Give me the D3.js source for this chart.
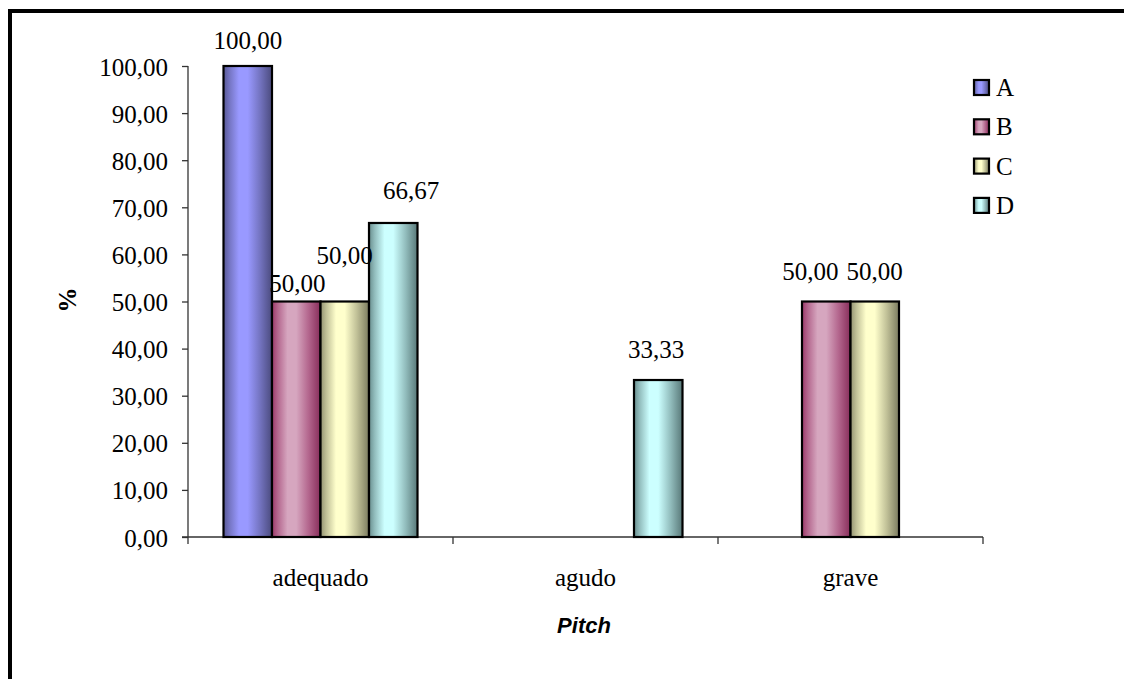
<!DOCTYPE html>
<html>
<head>
<meta charset="utf-8">
<script src="https://cdn.jsdelivr.net/npm/d3@7"></script>
<style>
  html, body { margin: 0; padding: 0; background: #fff; }
  svg { display: block; }
  .serif { font-family: "Liberation Serif", "Times New Roman", "DejaVu Serif", serif; }
  .sans { font-family: "Liberation Sans", Arial, sans-serif; }
</style>
</head>
<body>
<svg id="chart" width="1124" height="679"></svg>
<script>
// Categories and series
const categories = ["adequado", "agudo", "grave"];
const seriesNames = ["A", "B", "C", "D"];
const valuesA = [100.00, 0, 0];
const valuesB = [50.00, 0, 50.00];
const valuesC = [50.00, 0, 50.00];
const valuesD = [66.67, 33.33, 0];
const yTicks = [0, 10, 20, 30, 40, 50, 60, 70, 80, 90, 100];

// Bar shading: edge colour and centre colour per series
const edgeColors = ["#55558f", "#993366", "#8c8c6c", "#648888"];
const centerColors = ["#9999ff", "#d6a6bf", "#ffffcc", "#ccffff"];

// Hand-placed label offsets (dx, dy) for crowded labels
const labelNudges = {
  "adequado|A": [0, 5],
  "adequado|B": [1, 12],
  "adequado|C": [0, -16],
  "adequado|D": [18, -2],
  "agudo|D": [-2, 0],
  "grave|B": [-16, 0],
  "grave|C": [0, 0]
};

const seriesValues = [valuesA, valuesB, valuesC, valuesD];
const rows = [];
categories.forEach((c, ci) => {
  seriesNames.forEach((s, si) => {
    rows.push({ category: c, series: s, si, value: seriesValues[si][ci] });
  });
});

const fmt = v => v.toFixed(2).replace(".", ",");

const svg = d3.select("#chart");

// Outer frame
svg.append("rect")
  .attr("x", 10).attr("y", 11)
  .attr("width", 1200).attr("height", 800)
  .attr("fill", "#fff").attr("stroke", "#000").attr("stroke-width", 4);

const plot = { left: 188, right: 983, top: 66, bottom: 537 };

const x0 = d3.scaleBand().domain(categories).range([plot.left, plot.right]).paddingInner(0).paddingOuter(0);
const x1 = d3.scaleBand().domain(seriesNames).range([0, x0.bandwidth()]).paddingInner(0).paddingOuter(0.732);
const y = d3.scaleLinear().domain([0, 100]).range([plot.bottom, plot.top]);

// Gradients
const defs = svg.append("defs");
seriesNames.forEach((s, i) => {
  const g = defs.append("linearGradient")
    .attr("id", "grad" + s)
    .attr("x1", "0%").attr("x2", "100%").attr("y1", "0%").attr("y2", "0%");
  const edge = d3.color(edgeColors[i]);
  const center = d3.color(centerColors[i]);
  const mix = d3.interpolateRgb(edge, center);
  const darker = d3.interpolateRgb(edge, "#000")(0.12);
  [[0, mix(0.05)], [0.12, mix(0.45)], [0.32, center], [0.5, center],
   [0.75, mix(0.45)], [1, darker]].forEach(([o, c]) => {
    g.append("stop").attr("offset", o).attr("stop-color", c);
  });
});

// Y axis
const yAxis = d3.axisLeft(y).tickValues(yTicks).tickSize(6).tickPadding(14).tickFormat(fmt);
const gy = svg.append("g").attr("transform", `translate(${plot.left},0)`).call(yAxis);
gy.attr("font-family", null).attr("font-size", null);
gy.select(".domain").attr("stroke", "#333").attr("stroke-width", 1.3).attr("d", `M0,${plot.bottom}V${plot.top}`);
gy.selectAll(".tick line").attr("stroke", "#333").attr("stroke-width", 1.3);
gy.selectAll(".tick text")
  .attr("class", "serif").attr("font-size", 25).attr("fill", "#000")
  .attr("dy", "0.36em");

// X axis
const xAxis = d3.axisBottom(x0).tickSize(0).tickPadding(0).tickFormat("");
const gx = svg.append("g").attr("transform", `translate(0,${plot.bottom})`).call(xAxis);
gx.select(".domain").attr("stroke", "#333").attr("stroke-width", 1.3)
  .attr("d", `M${plot.left - 6},0H${plot.right}`);
gx.selectAll(".tick").remove();
// category separators
const seps = categories.map(c => x0(c)).concat([plot.right]);
gx.selectAll("line.sep").data(seps).join("line")
  .attr("class", "sep")
  .attr("x1", d => d).attr("x2", d => d)
  .attr("y1", 0).attr("y2", 7)
  .attr("stroke", "#333").attr("stroke-width", 1.3);

// category labels
svg.append("g").selectAll("text").data(categories).join("text")
  .attr("class", "serif")
  .attr("x", d => x0(d) + x0.bandwidth() / 2)
  .attr("y", 586)
  .attr("text-anchor", "middle")
  .attr("font-size", 25)
  .text(d => d);

// Bars
const bars = rows.filter(d => d.value > 0);
svg.append("g").selectAll("rect").data(bars).join("rect")
  .attr("x", d => x0(d.category) + x1(d.series))
  .attr("y", d => y(d.value))
  .attr("width", x1.bandwidth())
  .attr("height", d => y(0) - y(d.value))
  .attr("fill", d => `url(#grad${d.series})`)
  .attr("stroke", "#000").attr("stroke-width", 2.2);

// Value labels
svg.append("g").selectAll("text").data(bars).join("text")
  .attr("class", "serif")
  .attr("x", d => {
    const n = labelNudges[d.category + "|" + d.series] || [0, 0];
    return x0(d.category) + x1(d.series) + x1.bandwidth() / 2 + n[0];
  })
  .attr("y", d => {
    const n = labelNudges[d.category + "|" + d.series] || [0, 0];
    return y(d.value) - 22 + n[1];
  })
  .attr("text-anchor", "middle")
  .attr("font-size", 25)
  .text(d => fmt(d.value));

// Axis titles
svg.append("text")
  .attr("class", "serif")
  .attr("transform", `translate(76,300) rotate(-90)`)
  .attr("text-anchor", "middle")
  .attr("font-size", 25).attr("font-weight", "bold")
  .text("%");

svg.append("text")
  .attr("class", "sans")
  .attr("x", 584).attr("y", 633)
  .attr("text-anchor", "middle")
  .attr("font-size", 22).attr("font-weight", "bold").attr("font-style", "italic")
  .text("Pitch");

// Legend
const legend = svg.append("g").selectAll("g").data(seriesNames).join("g")
  .attr("transform", (d, i) => `translate(974,${80 + i * 39.3})`);
legend.append("rect")
  .attr("width", 15).attr("height", 15)
  .attr("fill", d => `url(#grad${d})`)
  .attr("stroke", "#000").attr("stroke-width", 2.2);
legend.append("text")
  .attr("class", "serif")
  .attr("x", 22).attr("y", 16)
  .attr("font-size", 25)
  .text(d => d);
</script>
</body>
</html>
